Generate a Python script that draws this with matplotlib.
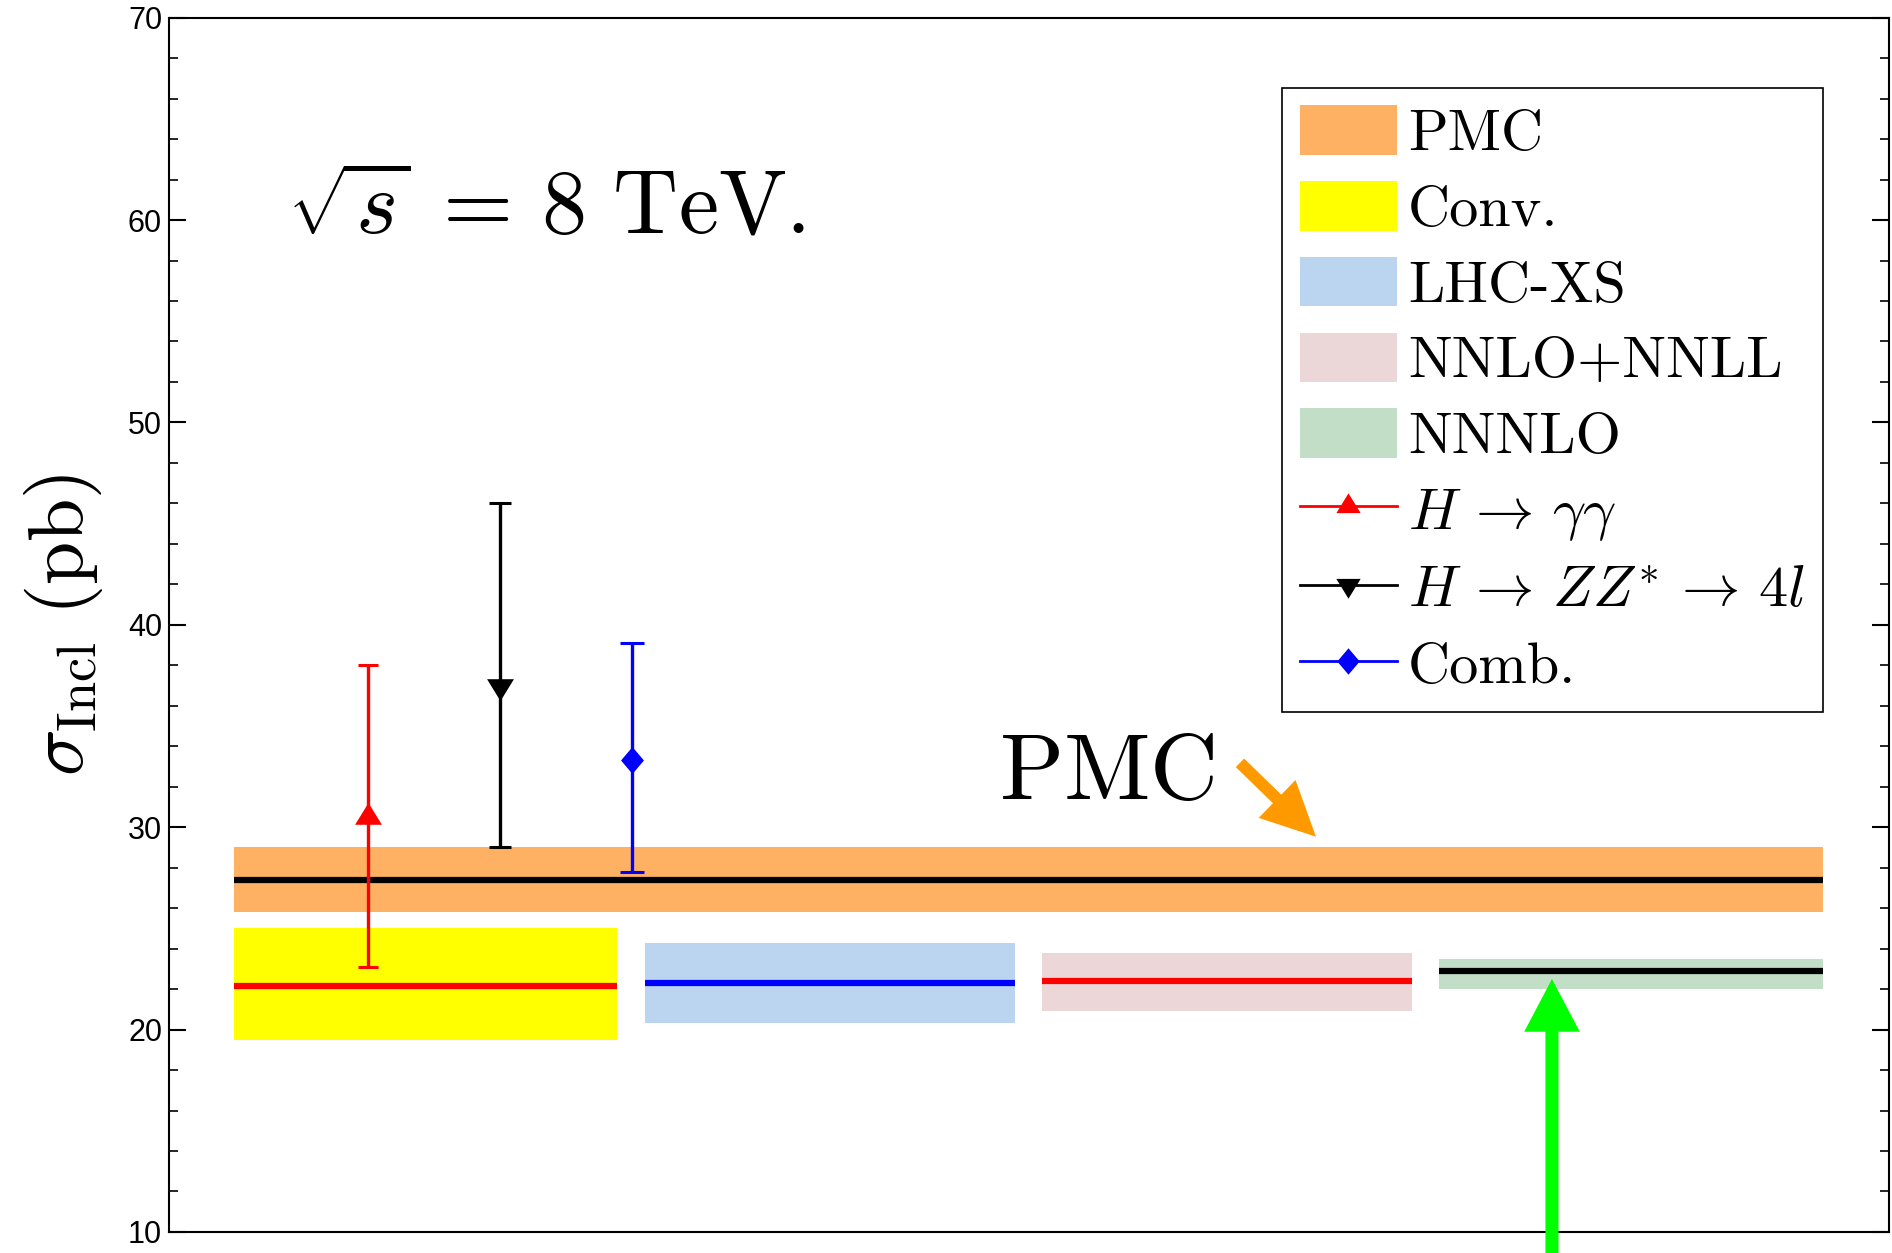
import matplotlib
matplotlib.use("Agg")
import matplotlib.pyplot as plt
from matplotlib.lines import Line2D
from matplotlib.patches import Patch
from matplotlib.ticker import MultipleLocator

plt.rcParams['mathtext.fontset'] = 'cm'

# ---------------- data ----------------
band_labels = ['PMC', 'Conv.', 'LHC-XS', 'NNLO+NNLL', 'NNNLO']
band_x0 = [0.65, 0.65, 4.76, 8.73, 12.70]
band_x1 = [16.54, 4.48, 8.46, 12.43, 16.54]
band_lo = [25.8, 19.5, 20.3, 20.9, 22.0]
band_hi = [29.0, 25.0, 24.3, 23.8, 23.5]
band_central = [27.4, 22.15, 22.3, 22.4, 22.9]
band_fill = ['#FFB163', '#FFFF00', '#BBD5F1', '#EBD7D7', '#C3DEC6']
band_line = ['black', 'red', 'blue', 'red', 'black']

meas_labels = [r'$H\,\rightarrow\,\gamma\gamma$',
               r'$H\,\rightarrow\,ZZ^{*}\,\rightarrow\,4l$',
               'Comb.']
meas_x = [1.99, 3.31, 4.63]
meas_val = [30.5, 37.0, 33.3]
meas_up = [7.5, 9.0, 5.8]
meas_dn = [7.4, 8.0, 5.5]
meas_color = ['red', 'black', 'blue']
meas_capsize = [7.0, 7.7, 8.4]

ytick_major = [10, 20, 30, 40, 50, 60, 70]

# ---------------- markers ----------------
h = 1.63
up_tri = [(0, 2 * h / 3), (-1, -h / 3), (1, -h / 3), (0, 2 * h / 3)]
down_tri = [(x, -y) for x, y in up_tri]
diamond = [(0, 1), (0.85, 0), (0, -1), (-0.85, 0), (0, 1)]
meas_marker = [up_tri, down_tri, diamond]
meas_ms = [21.0, 21.0, 19.4]

# ---------------- figure ----------------
fig = plt.figure(figsize=(18.92, 12.53), dpi=100)
ax = fig.add_axes([0.0893, 0.0168, 0.9091, 0.9691])

ax.set_xlim(0, 17.2)
ax.set_ylim(10, 70)

for x0, x1, lo, hi, c, fc, lc in zip(band_x0, band_x1, band_lo, band_hi,
                                      band_central, band_fill, band_line):
    ax.fill_between([x0, x1], [lo, lo], [hi, hi], color=fc, lw=0, zorder=1)
    ax.plot([x0, x1], [c, c], color=lc, lw=4.5, solid_capstyle='butt', zorder=2)

for x, v, up, dn, col, mk, ms, cs in zip(meas_x, meas_val, meas_up, meas_dn,
                                         meas_color, meas_marker, meas_ms,
                                         meas_capsize):
    ax.errorbar([x], [v], yerr=[[dn], [up]], fmt='none', ecolor=col,
                elinewidth=2.4, capsize=cs, capthick=2.2, zorder=3)
    ax.plot([x], [v], ls='none', marker=mk, ms=ms, color=col, mec=col,
            mew=0, zorder=4)

# arrows
ax.annotate('', xy=(11.47, 29.53), xytext=(10.71, 33.18),
            arrowprops=dict(arrowstyle='simple,head_length=39,head_width=38,tail_width=8.6',
                            mutation_scale=1, color='#FF9900', lw=0,
                            shrinkA=0, shrinkB=0),
            annotation_clip=False, zorder=5)
ax.annotate('', xy=(13.83, 22.5), xytext=(13.83, 8.9),
            arrowprops=dict(arrowstyle='simple,head_length=38,head_width=40,tail_width=9.4',
                            mutation_scale=1, color='#00FF00', lw=0,
                            shrinkA=0, shrinkB=0),
            annotation_clip=False, zorder=5)

# texts
ax.text(1.18, 59.36, r'$\sqrt{s}\:=\,8\ \mathrm{TeV.}$', fontsize=65,
        ha='left', va='baseline')
ax.text(8.30, 31.40, r'$\mathrm{PMC}$', fontsize=68, ha='left', va='baseline')

# axes styling
ax.set_xticks([])
ax.set_yticks(ytick_major)
ax.yaxis.set_minor_locator(MultipleLocator(2))
ax.tick_params(axis='y', which='both', direction='in', left=True, right=True)
ax.tick_params(axis='y', which='major', length=12, width=1.5, pad=5)
ax.tick_params(axis='y', which='minor', length=6.5, width=1.2)
for lab in ax.get_yticklabels():
    lab.set_fontfamily('Liberation Sans')
    lab.set_fontsize(22)
for sp in ax.spines.values():
    sp.set_linewidth(1.5)

ax.set_ylabel(r'$\sigma_{\mathrm{Incl}}\ (\mathrm{pb})$', fontsize=56)
ax.yaxis.label.set_va('center')
ax.yaxis.set_label_coords(-0.0616, 0.5)

# legend
handles = []
for lab, fc in zip(band_labels, band_fill):
    handles.append(Patch(facecolor=fc, edgecolor='none', label=lab))
for lab, col, mk in zip(meas_labels, meas_color, meas_marker):
    handles.append(Line2D([], [], color=col, lw=2.0, marker=mk, ms=19,
                          mew=0, label=lab))
leg = ax.legend(handles=handles, loc='upper right',
                bbox_to_anchor=(0.9616, 0.9421), borderaxespad=0,
                prop={'family': 'cmr10', 'size': 42},
                handlelength=1.66, handleheight=0.93, handletextpad=0.2,
                borderpad=0.3, labelspacing=0.34, fancybox=False,
                framealpha=1, edgecolor='black')
leg.get_frame().set_linewidth(1.2)

fig.savefig('out.png', dpi=100)
